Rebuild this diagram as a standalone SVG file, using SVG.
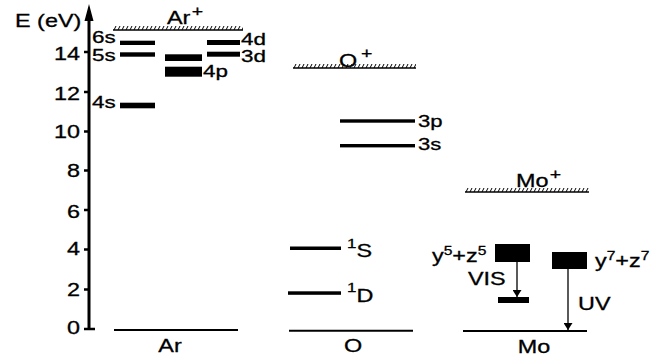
<svg xmlns="http://www.w3.org/2000/svg" width="664" height="360" viewBox="0 0 664 360">
  <style>
    text { font-family: "Liberation Sans", Arial, sans-serif; font-size: 18px; fill: #000; stroke: #000; stroke-width: 0.3; }
    .lv { font-size: 16px; }
    .sup { font-size: 12px; }
    .sup13 { font-size: 13px; }
    .plus { font-size: 15px; }
    .bar { fill: #000; }
    .ground { stroke: #000; stroke-width: 2; }
    .ionl { stroke: #000; stroke-width: 1.5; }
    .tick { stroke: #000; stroke-width: 2.5; fill: none; }
    .trans { stroke: #000; stroke-width: 1.3; marker-end: url(#head); }
  </style>
  <defs>
    <!-- hatching for the ionisation limits -->
    <pattern id="hatch" width="4" height="4" patternUnits="userSpaceOnUse">
      <path d="M1 4L3 0" stroke="#000" stroke-width="1"/>
    </pattern>
    <marker id="head" markerWidth="8" markerHeight="9" refX="7" refY="4.5" orient="auto" markerUnits="userSpaceOnUse">
      <path d="M0 0L7 4.5L0 9Z" fill="#000"/>
    </marker>
  </defs>

  <rect width="664" height="360" fill="#fff"/>

  <!-- energy axis -->
  <g id="energy-axis">
    <line x1="89" y1="18" x2="89" y2="330" stroke="#000" stroke-width="3"/>
    <path d="M89 4L84.5 21L93.5 21Z" fill="#000"/>
    <path class="tick" d="M84 52H89M84 92H89M84 131.5H89M84 170.5H89M84 210H89M84 249.5H89M84 289.5H89M84 329H95"/>
    <text transform="translate(15,27) scale(1.3,1)">E (eV)</text>
    <g text-anchor="end">
      <text transform="translate(80,60) scale(1.3,1)">14</text>
      <text transform="translate(80,100) scale(1.3,1)">12</text>
      <text transform="translate(80,138) scale(1.3,1)">10</text>
      <text transform="translate(80,177) scale(1.3,1)">8</text>
      <text transform="translate(80,218) scale(1.3,1)">6</text>
      <text transform="translate(80,255) scale(1.3,1)">4</text>
      <text transform="translate(80,296) scale(1.3,1)">2</text>
      <text transform="translate(80,334) scale(1.3,1)">0</text>
    </g>
  </g>

  <!-- argon -->
  <g id="ar">
    <g transform="translate(113,26)">
      <rect width="130" height="4" fill="url(#hatch)"/>
      <line class="ionl" x1="0" y1="4" x2="130" y2="4"/>
    </g>
    <text transform="translate(167,24) scale(1.3,1)">Ar<tspan class="plus" dx="1" dy="-8">+</tspan></text>
    <rect class="bar" x="120" y="40.7" width="35" height="4.3"/>
    <rect class="bar" x="120" y="52.3" width="35" height="4.4"/>
    <rect class="bar" x="120" y="102.7" width="35" height="5.6"/>
    <rect class="bar" x="165" y="54.3" width="37" height="6.7"/>
    <rect class="bar" x="165" y="66.7" width="37" height="10"/>
    <rect class="bar" x="207" y="40" width="33" height="5"/>
    <rect class="bar" x="207" y="51.7" width="33" height="5"/>
    <text class="lv" transform="translate(92,43) scale(1.4,1)">6s</text>
    <text class="lv" transform="translate(92,61) scale(1.4,1)">5s</text>
    <text class="lv" transform="translate(92,108) scale(1.4,1)">4s</text>
    <text class="lv" transform="translate(203,77) scale(1.4,1)">4p</text>
    <text class="lv" transform="translate(241,45) scale(1.4,1)">4d</text>
    <text class="lv" transform="translate(241,62) scale(1.4,1)">3d</text>
    <line class="ground" x1="114" y1="330" x2="238" y2="330"/>
    <text transform="translate(170,352) scale(1.3,1)" text-anchor="middle">Ar</text>
  </g>

  <!-- oxygen -->
  <g id="o">
    <g transform="translate(293,64)">
      <rect width="123" height="4" fill="url(#hatch)"/>
      <line class="ionl" x1="0" y1="4" x2="123" y2="4"/>
    </g>
    <text transform="translate(339,67) scale(1.3,1)">O<tspan class="plus" dx="3" dy="-9">+</tspan></text>
    <rect class="bar" x="340" y="119.3" width="75" height="3.4"/>
    <rect class="bar" x="340" y="144" width="75" height="3.4"/>
    <rect class="bar" x="290" y="246.5" width="51" height="3.5"/>
    <rect class="bar" x="288" y="291.3" width="53" height="3.5"/>
    <text transform="translate(418,127) scale(1.3,1)" style="font-size:17px">3p</text>
    <text transform="translate(418,150) scale(1.3,1)" style="font-size:17px">3s</text>
    <text transform="translate(347,248) scale(1.3,1)"><tspan class="sup13">1</tspan><tspan dy="9">S</tspan></text>
    <text transform="translate(347,292) scale(1.3,1)"><tspan class="sup13">1</tspan><tspan dy="10">D</tspan></text>
    <line class="ground" x1="289" y1="330.7" x2="413" y2="330.7"/>
    <text transform="translate(353,352) scale(1.3,1)" text-anchor="middle">O</text>
  </g>

  <!-- molybdenum -->
  <g id="mo">
    <g transform="translate(465,188)">
      <rect width="124" height="4" fill="url(#hatch)"/>
      <line class="ionl" x1="0" y1="4" x2="124" y2="4"/>
    </g>
    <text transform="translate(516,187) scale(1.3,1)">Mo<tspan class="plus" dx="1" dy="-8">+</tspan></text>
    <rect class="bar" x="495" y="244" width="35" height="18"/>
    <rect class="bar" x="498" y="297" width="31" height="6"/>
    <rect class="bar" x="552" y="252" width="35" height="17"/>
    <text transform="translate(432,261.7) scale(1.3,1)">y<tspan class="sup" dy="-6.5">5</tspan><tspan dy="6.5">+z</tspan><tspan class="sup" dy="-6.5">5</tspan></text>
    <text transform="translate(595,266.7) scale(1.3,1)">y<tspan class="sup" dy="-6.5">7</tspan><tspan dy="6.5">+z</tspan><tspan class="sup" dy="-6.5">7</tspan></text>
    <text transform="translate(468,285) scale(1.3,1)">VIS</text>
    <text transform="translate(578,310) scale(1.3,1)">UV</text>
    <line class="ground" x1="463" y1="331" x2="587" y2="331"/>
    <text transform="translate(534,353) scale(1.3,1)" text-anchor="middle">Mo</text>
  </g>

  <!-- radiative transitions -->
  <g id="connectors">
    <line class="trans" x1="517" y1="262" x2="517" y2="297"/>
    <line class="trans" x1="568" y1="269" x2="568" y2="330"/>
  </g>
</svg>
